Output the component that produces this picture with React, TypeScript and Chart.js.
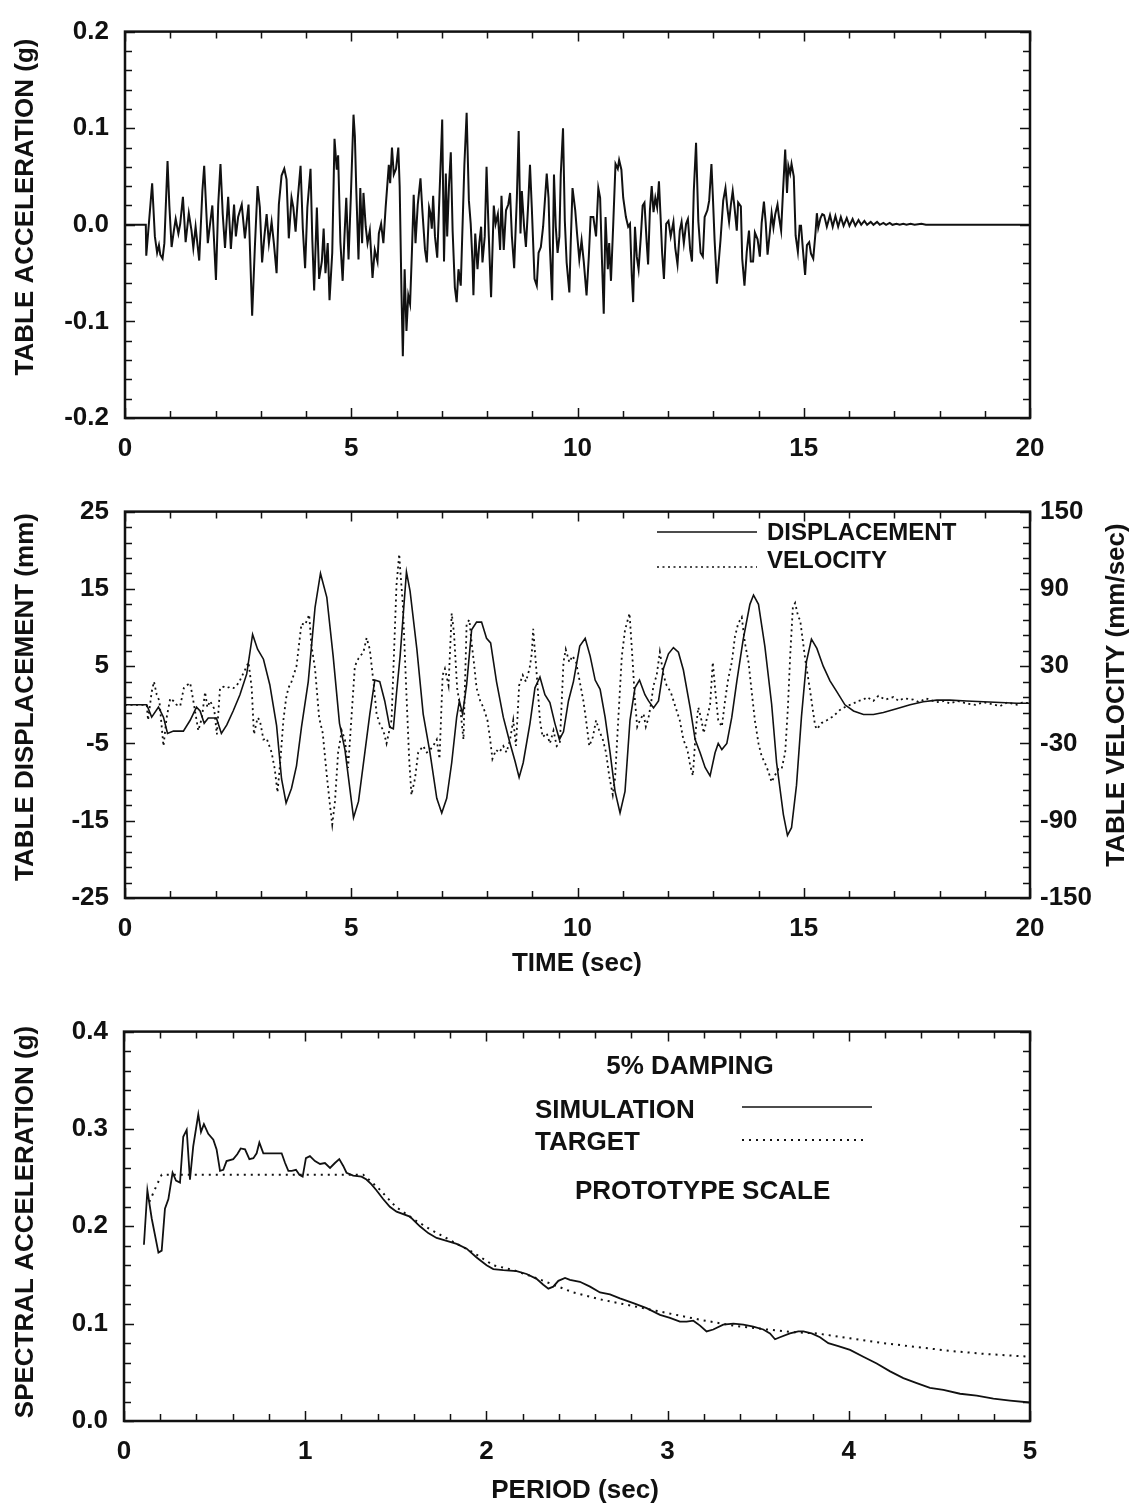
import React, { useEffect, useRef } from "react";
import { Chart, registerables } from "chart.js";

Chart.register(...registerables);

const FONT = '"Liberation Sans", Arial, Helvetica, sans-serif';
const INK = "#111111";

// ---------- Chart 1: table acceleration (g) vs time (sec) ----------
const accelerationPoints: number[][] = [
  [0, 0], [0.46, 0], [0.47, -0.032], [0.6, 0.043], [0.66, -0.012], [0.71, -0.029], [0.75, -0.021], [0.78, -0.031],
  [0.83, -0.035], [0.87, -0.019], [0.94, 0.066], [0.98, 0.02], [1.03, -0.023], [1.08, -0.006], [1.12, 0.006],
  [1.18, -0.009], [1.22, 0.001], [1.28, 0.029], [1.34, -0.018], [1.41, 0.012], [1.47, -0.006], [1.51, -0.024],
  [1.56, -0.002], [1.64, -0.037], [1.71, 0.035], [1.75, 0.061], [1.83, -0.019], [1.88, 0.001], [1.93, 0.02],
  [2.01, -0.057], [2.06, 0.021], [2.11, 0.063], [2.16, 0.011], [2.21, -0.024], [2.28, 0.029], [2.34, -0.025],
  [2.41, 0.021], [2.45, -0.012], [2.5, 0.008], [2.58, 0.021], [2.65, -0.014], [2.73, 0.021], [2.81, -0.094],
  [2.87, -0.023], [2.93, 0.04], [2.98, 0.018], [3.03, -0.039], [3.08, -0.012], [3.13, 0.011], [3.18, -0.019],
  [3.24, 0.003], [3.29, -0.019], [3.35, -0.05], [3.4, 0.021], [3.46, 0.051], [3.52, 0.058], [3.57, 0.047],
  [3.62, -0.014], [3.68, 0.028], [3.72, 0.018], [3.77, -0.007], [3.82, 0.028], [3.88, 0.061], [3.93, -0.004],
  [3.98, -0.045], [4.03, 0.018], [4.1, 0.058], [4.14, -0.016], [4.18, -0.068], [4.24, 0.018], [4.29, -0.056],
  [4.35, -0.038], [4.39, -0.004], [4.43, -0.05], [4.48, -0.019], [4.52, -0.078], [4.58, -0.029], [4.63, 0.089],
  [4.68, 0.057], [4.71, 0.072], [4.76, -0.018], [4.81, -0.058], [4.85, -0.012], [4.89, 0.028], [4.94, -0.036],
  [4.99, 0.028], [5.05, 0.114], [5.08, 0.092], [5.11, 0.038], [5.16, -0.036], [5.2, 0.038], [5.24, -0.019],
  [5.27, 0.033], [5.32, -0.002], [5.36, -0.019], [5.41, -0.006], [5.47, -0.055], [5.52, -0.026], [5.58, -0.038],
  [5.61, -0.009], [5.66, 0.001], [5.71, -0.019], [5.76, 0.018], [5.83, 0.062], [5.86, 0.043], [5.9, 0.08],
  [5.94, 0.052], [5.99, 0.058], [6.04, 0.08], [6.07, 0.04], [6.11, -0.07], [6.14, -0.136], [6.18, -0.046],
  [6.22, -0.11], [6.26, -0.073], [6.3, -0.082], [6.34, -0.029], [6.38, 0.031], [6.42, -0.019], [6.47, 0.021],
  [6.53, 0.048], [6.57, 0.016], [6.63, -0.026], [6.67, -0.039], [6.72, 0.018], [6.75, 0.012], [6.78, -0.004],
  [6.81, 0.03], [6.85, -0.012], [6.9, -0.034], [6.95, 0.031], [7.0, 0.095], [7.01, 0.109], [7.05, -0.038],
  [7.09, 0.053], [7.12, -0.012], [7.16, 0.041], [7.2, 0.075], [7.24, -0.006], [7.29, -0.065], [7.33, -0.08],
  [7.37, -0.046], [7.42, -0.063], [7.45, -0.016], [7.5, 0.062], [7.55, 0.116], [7.6, 0.025], [7.64, 0.001],
  [7.68, -0.039], [7.7, -0.073], [7.74, -0.009], [7.79, -0.046], [7.83, -0.019], [7.87, -0.002], [7.9, -0.039],
  [7.95, -0.012], [7.99, 0.06], [8.04, -0.012], [8.09, -0.075], [8.15, 0.02], [8.19, 0.001], [8.24, 0.011],
  [8.29, -0.026], [8.32, 0.03], [8.37, -0.026], [8.42, 0.015], [8.47, 0.021], [8.51, 0.033], [8.55, -0.012],
  [8.6, -0.045], [8.66, 0.028], [8.7, 0.097], [8.74, -0.009], [8.77, 0.035], [8.82, -0.002], [8.86, -0.023],
  [8.91, 0.021], [8.95, 0.062], [8.99, 0.018], [9.05, -0.056], [9.1, -0.063], [9.14, -0.029], [9.19, -0.023],
  [9.24, -0.002], [9.32, 0.053], [9.36, 0.028], [9.39, -0.023], [9.44, -0.078], [9.48, 0.052], [9.52, -0.002],
  [9.56, -0.029], [9.6, -0.012], [9.63, 0.052], [9.68, 0.1], [9.72, 0.004], [9.76, -0.039], [9.82, -0.07],
  [9.85, -0.019], [9.89, 0.038], [9.95, 0.015], [9.99, -0.009], [10.04, -0.036], [10.09, -0.016], [10.14, -0.039],
  [10.2, -0.073], [10.25, -0.033], [10.29, 0.008], [10.35, 0.008], [10.41, -0.012], [10.46, 0.038], [10.5, 0.028],
  [10.54, -0.036], [10.58, -0.092], [10.62, 0.008], [10.67, -0.046], [10.7, -0.019], [10.74, -0.058], [10.79, 0.001],
  [10.84, 0.063], [10.89, 0.058], [10.92, 0.067], [10.97, 0.057], [11.01, 0.028], [11.07, 0.008], [11.12, -0.002],
  [11.16, 0.001], [11.2, -0.053], [11.23, -0.08], [11.27, -0.002], [11.31, -0.033], [11.35, -0.046], [11.4, -0.012],
  [11.44, 0.02], [11.48, 0.023], [11.53, -0.019], [11.56, -0.041], [11.6, 0.015], [11.64, 0.04], [11.68, 0.013],
  [11.72, 0.028], [11.76, 0.018], [11.8, 0.045], [11.84, 0.004], [11.87, -0.029], [11.91, -0.056], [11.96, 0.001],
  [12.01, 0.004], [12.06, -0.012], [12.12, 0.003], [12.16, -0.024], [12.21, -0.041], [12.26, -0.006], [12.3, 0.003],
  [12.35, -0.019], [12.4, 0.001], [12.44, 0.006], [12.49, -0.026], [12.53, -0.038], [12.57, 0.035], [12.62, 0.085],
  [12.67, 0.004], [12.72, -0.029], [12.77, -0.033], [12.81, 0.008], [12.87, 0.015], [12.91, 0.025], [12.96, 0.063],
  [12.99, 0.031], [13.03, -0.016], [13.08, -0.061], [13.13, -0.033], [13.16, -0.016], [13.22, 0.025], [13.27, 0.038],
  [13.31, 0.018], [13.35, 0.003], [13.39, 0.021], [13.43, 0.035], [13.47, 0.018], [13.52, -0.006], [13.55, 0.023],
  [13.61, 0.019], [13.64, -0.035], [13.69, -0.063], [13.74, -0.028], [13.79, -0.006], [13.83, -0.038], [13.88, -0.038],
  [13.92, -0.008], [13.98, -0.015], [14.03, -0.033], [14.07, 0.002], [14.12, 0.024], [14.16, 0.002], [14.2, -0.031],
  [14.25, -0.008], [14.29, 0.012], [14.33, -0.003], [14.37, 0.011], [14.42, 0.021], [14.45, 0.009], [14.5, -0.006],
  [14.54, 0.033], [14.59, 0.078], [14.63, 0.033], [14.66, 0.061], [14.7, 0.053], [14.73, 0.063], [14.78, 0.05],
  [14.82, -0.011], [14.87, -0.028], [14.91, -0.001], [14.94, -0.001], [14.98, -0.025], [15.03, -0.052], [15.07, -0.021],
  [15.12, -0.018], [15.16, -0.03], [15.21, -0.035], [15.26, -0.008], [15.29, 0.012], [15.32, -0.003], [15.37, 0.007],
  [15.41, 0.011], [15.45, 0.01], [15.51, -0.002], [15.58, 0.01], [15.64, -0.002], [15.7, 0.009], [15.76, -0.002],
  [15.82, 0.008], [15.88, -0.001], [15.95, 0.007], [16.01, -0.001], [16.08, 0.006], [16.14, -0.001], [16.21, 0.005],
  [16.27, 0.0], [16.34, 0.004], [16.4, 0.0], [16.48, 0.003], [16.54, 0.0], [16.62, 0.003], [16.68, 0.0],
  [16.76, 0.002], [16.82, 0.0], [16.9, 0.002], [16.96, 0.0], [17.05, 0.001], [17.12, 0.0], [17.2, 0.001],
  [17.27, 0.0], [17.36, 0.001], [17.45, 0.0], [17.6, 0.001], [17.7, 0.0], [20, 0.0],
];

// ---------- Chart 2: displacement (mm) and velocity (mm/sec) vs time ----------
const displacementPoints: number[][] = [
  [0, 0], [0.48, 0], [0.59, -1.6], [0.74, -0.3], [0.85, -1.6], [0.94, -3.7], [1.07, -3.4], [1.29, -3.4],
  [1.44, -2.0], [1.58, -0.3], [1.66, -0.8], [1.75, -2.4], [1.84, -1.7], [2.02, -1.7], [2.13, -3.7], [2.25, -2.6],
  [2.39, -0.8], [2.54, 1.3], [2.69, 4.0], [2.82, 9.1], [2.93, 7.2], [3.06, 5.9], [3.2, 2.6], [3.35, -2.7],
  [3.46, -9.6], [3.56, -12.7], [3.68, -10.8], [3.79, -7.9], [3.9, -2.9], [4.05, 3.0], [4.2, 12.6], [4.32, 17.0],
  [4.46, 13.9], [4.6, 6.3], [4.74, -2.4], [4.86, -5.8], [5.05, -14.6], [5.16, -12.5], [5.3, -6.2], [5.41, -1.2],
  [5.52, 3.2], [5.63, 3.0], [5.74, 0.5], [5.85, -2.9], [5.93, -3.1], [6.0, 1.5], [6.08, 6.3], [6.22, 17.2],
  [6.3, 14.7], [6.45, 7.2], [6.59, -1.2], [6.74, -6.2], [6.89, -12.1], [7.0, -14.0], [7.11, -12.1], [7.22, -7.5],
  [7.33, -1.6], [7.39, 0.5], [7.46, -1.2], [7.55, 2.6], [7.66, 9.7], [7.77, 10.7], [7.88, 10.7], [7.99, 8.6],
  [8.08, 8.0], [8.21, 3.0], [8.36, -1.6], [8.51, -5.0], [8.62, -7.3], [8.71, -9.4], [8.8, -7.5], [8.95, -2.4],
  [9.06, 2.2], [9.17, 3.6], [9.28, 1.3], [9.39, 0.3], [9.5, -2.4], [9.6, -4.5], [9.69, -3.5], [9.8, 0.5],
  [9.91, 3.0], [10.05, 7.6], [10.17, 8.6], [10.28, 6.3], [10.39, 3.2], [10.5, 2.0], [10.61, -1.6], [10.72, -6.2],
  [10.83, -11.2], [10.94, -14.0], [11.05, -11.2], [11.16, -2.0], [11.27, 2.2], [11.37, 3.2], [11.49, 1.3],
  [11.57, 0.5], [11.68, -0.4], [11.79, 0.5], [11.9, 4.7], [12.01, 6.6], [12.12, 7.4], [12.23, 6.8], [12.34, 4.5],
  [12.49, -0.4], [12.6, -4.5], [12.71, -6.2], [12.82, -8.1], [12.93, -9.2], [13.04, -6.2], [13.11, -5.0],
  [13.19, -5.8], [13.3, -5.0], [13.41, -1.6], [13.52, 3.0], [13.66, 8.4], [13.81, 13.0], [13.89, 14.2],
  [14.0, 13.0], [14.14, 7.6], [14.29, 0.1], [14.4, -7.5], [14.55, -14.2], [14.64, -16.9], [14.73, -15.9],
  [14.84, -10.4], [14.95, -1.5], [15.06, 5.6], [15.17, 8.5], [15.29, 7.3], [15.43, 5.0], [15.58, 3.1],
  [15.73, 1.7], [15.91, 0.0], [16.1, -0.8], [16.32, -1.25], [16.54, -1.25], [16.76, -1.0], [17.05, -0.5],
  [17.35, 0.0], [17.64, 0.4], [17.94, 0.6], [18.23, 0.6], [18.6, 0.5], [18.97, 0.4], [19.34, 0.3], [19.71, 0.2],
  [20.0, 0.2],
];

const velocityPoints: number[][] = [
  [0, 0], [0.48, 0], [0.51, -12], [0.59, 10], [0.64, 18], [0.7, 8], [0.76, 3], [0.85, -32], [0.92, -10], [1.0, 5],
  [1.07, 3], [1.14, 0], [1.22, -1], [1.3, 13], [1.36, 15], [1.44, 17], [1.51, 3], [1.62, -20], [1.7, -10],
  [1.77, 10], [1.82, -2], [1.88, 3], [1.97, -3], [2.03, -23], [2.1, 13], [2.18, 14], [2.25, 13], [2.32, 14],
  [2.4, 13], [2.47, 15], [2.54, 19], [2.65, 27], [2.73, 33], [2.8, 13], [2.85, -23], [2.93, -10], [2.98, -12],
  [3.06, -27], [3.13, -26], [3.24, -37], [3.31, -50], [3.37, -68], [3.43, -45], [3.5, -12], [3.56, 5], [3.61, 13],
  [3.68, 18], [3.79, 30], [3.9, 63], [3.98, 62], [4.07, 70], [4.12, 46], [4.2, 28], [4.29, -10], [4.37, -22],
  [4.46, -55], [4.53, -78], [4.58, -93], [4.64, -75], [4.71, -37], [4.79, -20], [4.86, -27], [4.93, -49],
  [5.01, -7], [5.08, 30], [5.16, 36], [5.27, 41], [5.34, 52], [5.41, 43], [5.49, 18], [5.56, -7], [5.63, -15],
  [5.71, -20], [5.78, -30], [5.89, -12], [6.0, 93], [6.06, 117], [6.08, 106], [6.14, 78], [6.22, 8], [6.28, -42],
  [6.33, -70], [6.41, -57], [6.48, -37], [6.59, -32], [6.67, -37], [6.74, -35], [6.81, -32], [6.89, -27],
  [6.95, -42], [7.02, 23], [7.07, 28], [7.15, 15], [7.22, 71], [7.27, 56], [7.34, 13], [7.4, 0], [7.48, -27],
  [7.55, 63], [7.61, 66], [7.66, 48], [7.71, 33], [7.77, 13], [7.85, 3], [7.92, -2], [8.01, -12], [8.07, -27],
  [8.12, -42], [8.2, -35], [8.27, -37], [8.36, -32], [8.43, -37], [8.51, -27], [8.58, -12], [8.64, -32],
  [8.71, 15], [8.79, 23], [8.86, 18], [8.94, 28], [8.99, 40], [9.02, 59], [9.1, 23], [9.17, -12], [9.23, -25],
  [9.32, -22], [9.39, -30], [9.47, -20], [9.54, -32], [9.61, -30], [9.69, 33], [9.74, 43], [9.82, 33], [9.89, 38],
  [9.97, 33], [10.05, 18], [10.13, 3], [10.19, -12], [10.26, -32], [10.34, -25], [10.41, -12], [10.48, -20],
  [10.56, -27], [10.63, -37], [10.7, -55], [10.78, -70], [10.83, -57], [10.9, -12], [10.98, 38], [11.05, 58],
  [11.15, 71], [11.22, 33], [11.27, 3], [11.32, -17], [11.38, -12], [11.46, -7], [11.51, -17], [11.57, -10],
  [11.62, 0], [11.68, 15], [11.75, 23], [11.82, 41], [11.9, 23], [11.97, 15], [12.06, 10], [12.15, 0],
  [12.26, -12], [12.34, -27], [12.43, -35], [12.49, -47], [12.55, -55], [12.62, -17], [12.67, -2], [12.74, -12],
  [12.79, -22], [12.85, -12], [12.93, 0], [12.99, 33], [13.04, 13], [13.11, -12], [13.19, -17], [13.26, 3],
  [13.33, 20], [13.41, 33], [13.48, 53], [13.55, 63], [13.63, 68], [13.7, 48], [13.78, 33], [13.85, 10],
  [13.92, -12], [14.0, -30], [14.07, -40], [14.14, -45], [14.22, -52], [14.29, -60], [14.36, -55], [14.44, -50],
  [14.51, -50], [14.59, -37], [14.65, -2], [14.7, 38], [14.76, 76], [14.81, 79], [14.88, 68], [14.92, 66],
  [15.03, 36], [15.14, 11], [15.25, -16], [15.29, -19], [15.4, -14], [15.51, -12], [15.65, -9], [15.8, -4],
  [15.95, -1], [16.1, 1], [16.2, 3], [16.32, 4], [16.4, 6], [16.54, 3], [16.65, 7], [16.8, 4], [16.98, 6],
  [17.1, 3], [17.2, 5], [17.42, 4], [17.55, 2], [17.7, 5], [17.94, 2], [18.1, 3], [18.23, 1], [18.4, 3],
  [18.6, 1], [18.8, 0], [18.97, 2], [19.1, 1], [19.34, -1], [19.5, 2], [19.71, 0], [19.85, 2], [20, 1],
];

// ---------- Chart 3: spectral acceleration (g) vs period (sec) ----------
const simulationPoints: number[][] = [
  [0.11, 0.181], [0.129, 0.237], [0.153, 0.208], [0.19, 0.173], [0.208, 0.175], [0.226, 0.218], [0.245, 0.228],
  [0.268, 0.255], [0.287, 0.247], [0.309, 0.245], [0.327, 0.292], [0.346, 0.299], [0.364, 0.248], [0.382, 0.282],
  [0.41, 0.315], [0.425, 0.297], [0.441, 0.305], [0.465, 0.295], [0.493, 0.289], [0.511, 0.279], [0.53, 0.257],
  [0.548, 0.258], [0.566, 0.267], [0.603, 0.269], [0.625, 0.274], [0.644, 0.28], [0.668, 0.279], [0.692, 0.269],
  [0.714, 0.27], [0.732, 0.275], [0.747, 0.286], [0.769, 0.275], [0.806, 0.275], [0.843, 0.275], [0.87, 0.275],
  [0.889, 0.265], [0.907, 0.257], [0.926, 0.257], [0.949, 0.258], [0.968, 0.253], [0.986, 0.251], [1.004, 0.27],
  [1.026, 0.272], [1.054, 0.267], [1.082, 0.264], [1.109, 0.265], [1.137, 0.26], [1.164, 0.265], [1.188, 0.269],
  [1.21, 0.262], [1.228, 0.255], [1.265, 0.252], [1.311, 0.251], [1.338, 0.248], [1.366, 0.243], [1.393, 0.237],
  [1.43, 0.228], [1.467, 0.22], [1.504, 0.215], [1.578, 0.21], [1.633, 0.2], [1.679, 0.193], [1.725, 0.188],
  [1.781, 0.185], [1.836, 0.182], [1.891, 0.177], [1.946, 0.168], [2.001, 0.16], [2.038, 0.156], [2.093, 0.155],
  [2.167, 0.154], [2.222, 0.151], [2.277, 0.146], [2.314, 0.14], [2.342, 0.136], [2.369, 0.138], [2.397, 0.144],
  [2.434, 0.147], [2.461, 0.145], [2.516, 0.143], [2.572, 0.138], [2.627, 0.132], [2.682, 0.13], [2.737, 0.126],
  [2.811, 0.121], [2.884, 0.116], [2.958, 0.109], [3.013, 0.106], [3.068, 0.102], [3.105, 0.102], [3.142, 0.103],
  [3.179, 0.098], [3.215, 0.092], [3.252, 0.094], [3.307, 0.099], [3.363, 0.1], [3.418, 0.099], [3.473, 0.097],
  [3.528, 0.094], [3.565, 0.09], [3.593, 0.084], [3.62, 0.086], [3.675, 0.09], [3.721, 0.092], [3.749, 0.092],
  [3.795, 0.09], [3.841, 0.086], [3.887, 0.08], [3.942, 0.077], [4.007, 0.073], [4.08, 0.066], [4.154, 0.059],
  [4.228, 0.051], [4.301, 0.044], [4.375, 0.039], [4.448, 0.034], [4.522, 0.032], [4.614, 0.028], [4.706, 0.026],
  [4.798, 0.023], [4.89, 0.021], [5.0, 0.019],
];

const targetPoints: number[][] = [
  [0.14, 0.225], [0.18, 0.242], [0.208, 0.253], [1.32, 0.253], [1.4, 0.24], [1.5, 0.22], [1.6, 0.207],
  [1.689, 0.197], [1.817, 0.184], [1.928, 0.173], [2.038, 0.16], [2.149, 0.155], [2.259, 0.148], [2.369, 0.14],
  [2.48, 0.132], [2.627, 0.125], [2.811, 0.118], [2.995, 0.111], [3.179, 0.104], [3.363, 0.098], [3.547, 0.094],
  [3.712, 0.091], [3.823, 0.09], [4.007, 0.085], [4.19, 0.08], [4.375, 0.076], [4.559, 0.072], [4.743, 0.069],
  [5.0, 0.066],
];

const toXY = (pts: number[][]) => pts.map(([x, y]) => ({ x, y }));

// ---------- plugin: box frame, inward ticks, titles and in-plot notes ----------
const framePlugin = {
  id: "frame",
  afterDraw(chart: any, _args: any, opts: any) {
    const { ctx, chartArea: a, scales } = chart;
    const xs = scales.x;
    const ys = scales.y;
    ctx.save();
    ctx.strokeStyle = INK;
    ctx.lineWidth = 1.5;
    const isMajor = (v: number, min: number, step: number) => {
      const r = (v - min) / step;
      return Math.abs(r - Math.round(r)) < 1e-6;
    };
    const nx = Math.round((xs.max - xs.min) / opts.xMinor);
    for (let i = 0; i <= nx; i++) {
      const v = xs.min + i * opts.xMinor;
      const px = Math.round(xs.getPixelForValue(v)) + 0.5;
      const len = isMajor(v, xs.min, opts.xMajor) ? 10 : 7;
      ctx.beginPath();
      ctx.moveTo(px, a.bottom);
      ctx.lineTo(px, a.bottom - len);
      ctx.moveTo(px, a.top);
      ctx.lineTo(px, a.top + len);
      ctx.stroke();
    }
    const ny = Math.round((ys.max - ys.min) / opts.yMinor);
    for (let i = 0; i <= ny; i++) {
      const v = ys.min + i * opts.yMinor;
      const py = Math.round(ys.getPixelForValue(v)) + 0.5;
      const len = isMajor(v, ys.min, opts.yMajor) ? 10 : 7;
      ctx.beginPath();
      ctx.moveTo(a.left, py);
      ctx.lineTo(a.left + len, py);
      ctx.moveTo(a.right, py);
      ctx.lineTo(a.right - len, py);
      ctx.stroke();
    }
    ctx.lineWidth = 2.5;
    ctx.strokeRect(a.left, a.top, a.right - a.left, a.bottom - a.top);

    for (const ln of opts.lines || []) {
      ctx.lineWidth = ln.width || 1.5;
      ctx.setLineDash(ln.dash || []);
      ctx.beginPath();
      ctx.moveTo(ln.x1, ln.y);
      ctx.lineTo(ln.x2, ln.y);
      ctx.stroke();
    }
    ctx.setLineDash([]);

    ctx.fillStyle = INK;
    ctx.textBaseline = "middle";
    for (const t of opts.texts || []) {
      ctx.font = `bold ${t.size || 26}px ${FONT}`;
      ctx.textAlign = t.align || "center";
      ctx.save();
      ctx.translate(t.x, t.y);
      if (t.rot) ctx.rotate(-Math.PI / 2);
      ctx.fillText(t.text, 0, 0);
      ctx.restore();
    }
    ctx.restore();
  },
};

const tickFont = { family: FONT, size: 26, weight: "bold" as const };

function xScale(min: number, max: number, step: number, height: number) {
  return {
    type: "linear" as const,
    position: "bottom" as const,
    min,
    max,
    grid: { display: false, drawTicks: false },
    border: { display: false },
    ticks: { stepSize: step, font: tickFont, color: INK, padding: 15, maxRotation: 0, autoSkip: false },
    afterFit: (s: any) => {
      s.height = height;
    },
  };
}

function yScale(min: number, max: number, step: number, width: number, pos: "left" | "right", digits: number, pad: number) {
  return {
    type: "linear" as const,
    position: pos,
    min,
    max,
    grid: { display: false, drawTicks: false },
    border: { display: false },
    ticks: {
      stepSize: step,
      font: tickFont,
      color: INK,
      padding: pad,
      autoSkip: false,
      callback: (v: any) => Number(v).toFixed(digits),
    },
    afterFit: (s: any) => {
      s.width = width;
    },
  };
}

const lineStyle = { pointRadius: 0, borderColor: INK, fill: false, tension: 0 };

function config1() {
  return {
    type: "line",
    data: {
      datasets: [{ ...lineStyle, label: "TABLE ACCELERATION", data: toXY(accelerationPoints), borderWidth: 2 }],
    },
    options: {
      responsive: false,
      animation: false,
      devicePixelRatio: 1,
      layout: { padding: { top: 22, right: 101, left: 0, bottom: 0 } },
      scales: {
        x: xScale(0, 20, 5, 62),
        y: yScale(-0.2, 0.2, 0.1, 125, "left", 1, 16),
      },
      plugins: {
        legend: { display: false },
        tooltip: { enabled: false },
        frame: {
          xMinor: 1,
          xMajor: 5,
          yMinor: 0.02,
          yMajor: 0.1,
          texts: [{ text: "TABLE ACCELERATION (g)", x: 26, y: 207, rot: true }],
        },
      },
    },
    plugins: [framePlugin],
  };
}

function config2() {
  return {
    type: "line",
    data: {
      datasets: [
        { ...lineStyle, label: "DISPLACEMENT", data: toXY(displacementPoints), borderWidth: 1.6, yAxisID: "y" },
        {
          ...lineStyle,
          label: "VELOCITY",
          data: toXY(velocityPoints),
          borderWidth: 1.8,
          borderDash: [2, 3.5],
          yAxisID: "y1",
        },
      ],
    },
    options: {
      responsive: false,
      animation: false,
      devicePixelRatio: 1,
      layout: { padding: { top: 20, right: 0, left: 0, bottom: 0 } },
      scales: {
        x: xScale(0, 20, 5, 102),
        y: yScale(-25, 25, 10, 125, "left", 0, 16),
        y1: yScale(-150, 150, 60, 101, "right", 0, 10),
      },
      plugins: {
        legend: { display: false },
        tooltip: { enabled: false },
        frame: {
          xMinor: 1,
          xMajor: 5,
          yMinor: 2,
          yMajor: 10,
          lines: [
            { x1: 657, x2: 757, y: 52, width: 1.5 },
            { x1: 657, x2: 757, y: 87, width: 1.6, dash: [2, 3.5] },
          ],
          texts: [
            { text: "TABLE DISPLACEMENT (mm)", x: 26, y: 217, rot: true },
            { text: "TABLE VELOCITY (mm/sec)", x: 1117, y: 215, rot: true },
            { text: "TIME (sec)", x: 577, y: 484 },
            { text: "DISPLACEMENT", x: 767, y: 53, align: "left", size: 24 },
            { text: "VELOCITY", x: 767, y: 81, align: "left", size: 24 },
          ],
        },
      },
    },
    plugins: [framePlugin],
  };
}

function config3() {
  return {
    type: "line",
    data: {
      datasets: [
        { ...lineStyle, label: "SIMULATION", data: toXY(simulationPoints), borderWidth: 1.8 },
        { ...lineStyle, label: "TARGET", data: toXY(targetPoints), borderWidth: 2, borderDash: [2, 5] },
      ],
    },
    options: {
      responsive: false,
      animation: false,
      devicePixelRatio: 1,
      layout: { padding: { top: 24, right: 101, left: 0, bottom: 0 } },
      scales: {
        x: xScale(0, 5, 1, 86),
        y: yScale(0, 0.4, 0.1, 124, "left", 1, 16),
      },
      plugins: {
        legend: { display: false },
        tooltip: { enabled: false },
        frame: {
          xMinor: 0.2,
          xMajor: 1,
          yMinor: 0.02,
          yMajor: 0.1,
          lines: [
            { x1: 742, x2: 872, y: 107, width: 1.6 },
            { x1: 742, x2: 867, y: 140, width: 2, dash: [2, 5] },
          ],
          texts: [
            { text: "SPECTRAL ACCELERATION (g)", x: 26, y: 222, rot: true },
            { text: "PERIOD (sec)", x: 575, y: 491 },
            { text: "5% DAMPING", x: 690, y: 67 },
            { text: "SIMULATION", x: 535, y: 111, align: "left" },
            { text: "TARGET", x: 535, y: 143, align: "left" },
            { text: "PROTOTYPE SCALE", x: 575, y: 192, align: "left" },
          ],
        },
      },
    },
    plugins: [framePlugin],
  };
}

function ChartCanvas({ top, height, makeConfig }: { top: number; height: number; makeConfig: () => any }) {
  const ref = useRef<HTMLCanvasElement | null>(null);
  useEffect(() => {
    if (!ref.current) return;
    const chart = new Chart(ref.current, makeConfig());
    return () => chart.destroy();
  }, []);
  return (
    <canvas
      ref={ref}
      width={1131}
      height={height}
      style={{ position: "absolute", left: 0, top, width: 1131, height, display: "block" }}
    />
  );
}

export default function App() {
  return (
    <div style={{ position: "absolute", left: 0, top: 0, width: 1131, height: 1507, background: "#ffffff" }}>
      <ChartCanvas top={0} height={480} makeConfig={config1} />
      <ChartCanvas top={480} height={520} makeConfig={config2} />
      <ChartCanvas top={1000} height={507} makeConfig={config3} />
    </div>
  );
}
